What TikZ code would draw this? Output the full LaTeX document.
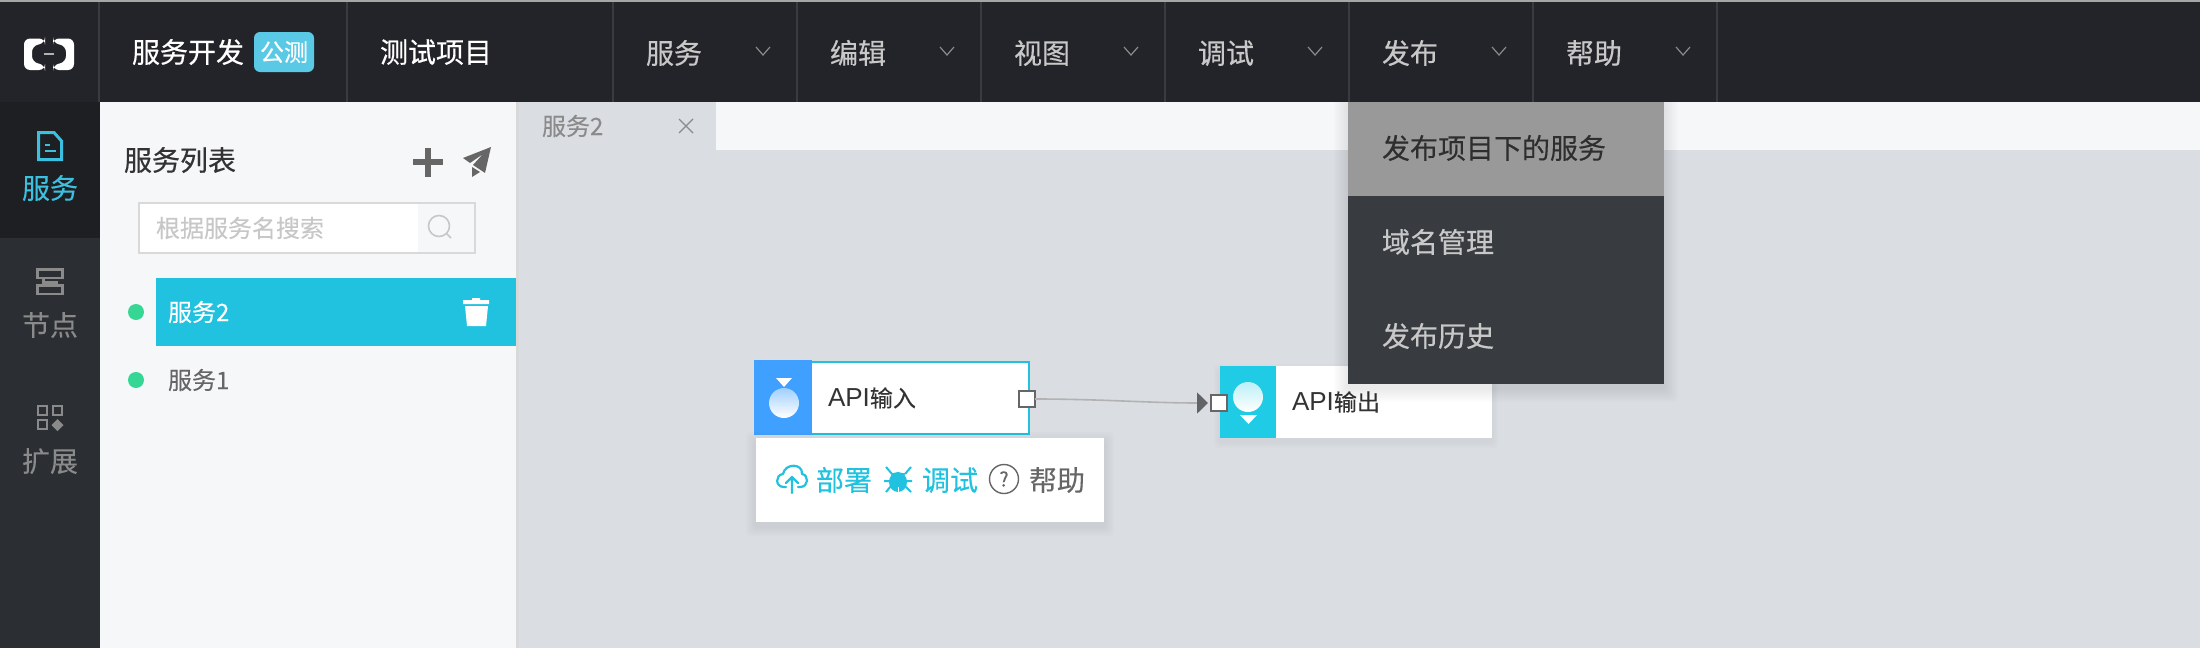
\documentclass[tikz,border=0pt]{standalone}
\usepackage{fontspec}
\setmainfont[FakeBold=0.15]{Noto Sans CJK SC}
\newfontfamily\heavyf[FakeBold=0.4]{Noto Sans CJK SC}
\newfontfamily\lat{Liberation Sans}
\usetikzlibrary{arrows.meta}
\definecolor{barc}{HTML}{232429}
\definecolor{sepc}{HTML}{3A3B40}
\definecolor{sidec}{HTML}{2B2E33}
\definecolor{sideact}{HTML}{1D1F22}
\definecolor{panelc}{HTML}{F5F7F9}
\definecolor{canvasc}{HTML}{DADDE2}
\definecolor{tealc}{HTML}{20C2DF}
\definecolor{cyanc}{HTML}{3CC0E0}
\definecolor{icong}{HTML}{8A8A8A}
\definecolor{menug}{HTML}{C8C8C8}
\definecolor{darkm}{HTML}{383C40}
\definecolor{hoverm}{HTML}{999999}
\definecolor{greenc}{HTML}{36D695}
\definecolor{iconb}{HTML}{666666}
\definecolor{blueic}{HTML}{40A0FF}
\definecolor{tealic}{HTML}{20CBE6}
\newcommand\softshadow[5]{%
  \foreach \k in {1,...,#5}{
    \fill[black,opacity=.012,rounded corners=2pt]
      ({#1-2*\k},{#2-2*\k+4}) rectangle ({#3+2*\k},{#4+2*\k+4});
  }}
\tikzset{
  lab/.style={inner sep=0,outer sep=0,anchor=west,font=\fontsize{#1}{#1}\selectfont,
    text height=.88*#1 pt,text depth=.12*#1 pt},
  sepl/.style={sepc,line width=.8pt},
  chev/.style={icong,line width=.6pt},
  porte/.style={draw=iconb,fill=white,line width=1pt,inner sep=0,outer sep=0,minimum size=8pt},
  flownode/.style={fill=white,inner sep=0,outer sep=0,minimum height=36pt},
  sideic/.style={icong,line width=1.25pt},
  dot/.style={circle,fill=greenc,inner sep=0,minimum size=8pt}
}
\begin{document}
\begin{tikzpicture}[x=.5pt,y=-.5pt]
\useasboundingbox (0,0) rectangle (2200,648);
% backgrounds
\fill[canvasc] (0,0) rectangle (2200,648);
\fill[panelc] (516,102) rectangle (2200,150);
\fill[sidec] (0,102) rectangle (100,648);
\fill[sideact] (0,102) rectangle (100,238);
\fill[panelc] (100,102) rectangle (516,648);
\fill[black!15] (516,102) rectangle (519,648);
\fill[canvasc] (519,102) rectangle (716,150);
% tab
\node[lab=12,text=icong] (tab) at (542,126) {服务2};
\draw[icong,line width=.6pt] (679,119) -- (693,133) (693,119) -- (679,133);
% panel
\node[lab=14,text=black!80,font=\fontsize{14}{14}\heavyf] (ptitle) at (124,160) {服务列表};
\draw[iconb,line width=2.8pt] (413,162) -- (443,162) (428,148) -- (428,177);
\fill[iconb] (463,158) -- (491,147) -- (485,173) -- (473,165) -- (483,154) -- (470,163) -- cycle;
\fill[iconb] (472,167) -- (480,172) -- (472,177) -- cycle;
\fill[white,draw=black!15,line width=1pt] (139,203) rectangle (475,253);
\fill[panelc] (418,204) rectangle (474,252);
\node[lab=12,text=black!22] (search) at (156,228) {根据服务名搜索};
\draw[black!22,line width=.8pt] (439,226) circle[radius=10.5] (447,234) -- (451,238);
\fill[tealc] (156,278) rectangle (516,346);
\node[lab=12,text=white,font=\fontsize{12}{12}\heavyf] (s2) at (168,312) {服务2};
\fill[white] (463,300) rectangle (489,304) (472,298) rectangle (480,300);
\fill[white] (465,306) -- (488,306) -- (486,326) -- (467,326) -- cycle;
\node[dot] (d2) at (136,312) {};
\node[lab=12,text=iconb] (s1) at (168,380) {服务1};
\node[dot] (d1) at (136,380) {};
% sidebar
\draw[cyanc,line width=1.5pt,line join=miter] (38.5,132.5) -- (54,132.5) -- (61.5,141) -- (61.5,159.5) -- (38.5,159.5) -- cycle;
\draw[cyanc,line width=1.2pt] (45,145) -- (50,145) (45,151) -- (56,151);
\node[lab=14,text=cyanc,anchor=center] (n1) at (50,188) {服务};
\draw[sideic] (37.5,269.5) rectangle (62.5,278);
\draw[sideic] (37.5,285.5) rectangle (62.5,294);
\draw[sideic] (43.5,278) -- (43.5,282.5) -- (57,282.5) -- (57,285.5);
\node[lab=14,text=icong,anchor=center] (n2) at (50,325) {节点};
\draw[sideic,line width=1.2pt] (38,406) rectangle (47,415) (53,406) rectangle (62,415) (38,420) rectangle (47,429);
\fill[icong] (57.5,419) -- (63.5,425) -- (57.5,431) -- (51.5,425) -- cycle;
\node[lab=14,text=icong,anchor=center] (n3) at (50,461) {扩展};
% flow nodes
\node[flownode,draw=tealc,line width=1pt,minimum width=137pt] (apiin) at (892,398) {};
\fill[blueic] (754,360) rectangle (812,435);
\shade[top color=blueic!50!white,bottom color=white] (784,403) circle[radius=15];
\fill[white] (776,378) -- (792,378) -- (784,387) -- cycle;
\node[lab=11.5,text=black!80] (intext) at (828,398) {{\lat\fontsize{13}{13}\selectfont API}输入};
\softshadow{1220}{366}{1492}{438}{3}
\node[flownode,minimum width=136pt] (apiout) at (1356,402) {};
\fill[tealic] (1220,366) rectangle (1276,438);
\shade[top color=tealic!30!white,bottom color=white] (1248,397) circle[radius=15];
\fill[white] (1240,415) -- (1257,415) -- (1248.5,424) -- cycle;
\node[lab=11.5,text=black!80] (outtext) at (1292,402) {{\lat\fontsize{13}{13}\selectfont API}输出};
\node[porte] (portin) at (1027,399) {};
\node[porte] (portout) at (1219,403) {};
\draw[black!30,line width=.8pt,shorten >=1.5pt,-{Triangle[length=5.5pt,width=10.5pt,color=black!55!canvasc]}]
  (portin.east) .. controls (1100,399) and (1150,403) .. (portout.west);
% toolbar
\softshadow{756}{438}{1104}{522}{5}
\fill[white] (756,438) rectangle (1104,522);
\draw[tealc,line width=1.1pt,line cap=round,line join=round]
  (786,487) -- (784,487) .. controls (775,487) and (775,475) .. (783,474)
  .. controls (785,463) and (803,463) .. (802,474)
  .. controls (809,475) and (809,487) .. (800,487) -- (798,487);
\draw[tealc,line width=1.1pt,line cap=round,line join=round] (792,493) -- (792,477) (786,483) -- (792,477) -- (798,483);
\node[lab=14,text=tealc] (deploy) at (816,480) {部署};
\fill[tealc] (898,482) ellipse[x radius=9,y radius=10];
\fill[tealc] (891,473) arc[start angle=180,end angle=0,radius=7] -- cycle;
\draw[tealc,line width=1pt] (886,467) -- (892,474) (911,467) -- (905,474) (884,481) -- (912,481) (886,492) -- (891,486) (911,492) -- (905,486);
\draw[white,line width=.5pt] (898,487) -- (898,492);
\node[lab=14,text=tealc] (debug) at (922,480) {调试};
\node[circle,draw=iconb,line width=.7pt,inner sep=0,minimum size=14.5pt,text=iconb,font=\fontsize{10}{10}\selectfont,text height=7.5pt,text depth=0pt] (helpc) at (1004,479) {?};
\node[lab=14,text=iconb] (help) at (1029,480) {帮助};
% dropdown
\softshadow{1348}{102}{1664}{384}{7}
% top bar
\fill[barc] (0,0) rectangle (2200,102);
\fill[black!35] (0,0) rectangle (2200,1.5);
\foreach \xx in {99,347,613,797,981,1165,1349,1533,1717}{
  \draw[sepl] (\xx,2) -- (\xx,102);
}
\fill[white,rounded corners=3pt] (45,38.5) -- (24,38.5) -- (24,70) -- (45,70) -- (45,65) -- (32,62) -- (32,46) -- (45,43) -- cycle;
\fill[white,rounded corners=3pt] (53,38.5) -- (74,38.5) -- (74,70) -- (53,70) -- (53,65) -- (66,62) -- (66,46) -- (53,43) -- cycle;
\draw[black!30,line width=1pt] (44,54) -- (54,54);
\node[lab=14,text=white,font=\fontsize{14}{14}\heavyf] (brand) at (132,52) {服务开发};
\fill[cyanc!85!white,rounded corners=3pt] (254,32) rectangle (314,72);
\node[lab=12,text=white,font=\fontsize{12}{12}\heavyf] (beta) at (260,52) {公测};
\node[lab=14,text=white,font=\fontsize{14}{14}\heavyf] (proj) at (380,52) {测试项目};
\foreach \xx/\tt/\nm in {613/服务/a,797/编辑/b,981/视图/c,1165/调试/d,1349/发布/e,1533/帮助/f}{
  \node[lab=14,text=menug,font=\fontsize{14}{14}\heavyf] (m\nm) at (\xx+33,53) {\tt};
  \draw[chev] (\xx+143,47) -- (\xx+150,55) -- (\xx+157,47);
}
\fill[hoverm] (1348,102) rectangle (1664,196);
\fill[darkm] (1348,196) rectangle (1664,384);
\node[lab=14,text=black!70!hoverm] (d1t) at (1382,148) {发布项目下的服务};
\node[lab=14,text=menug,font=\fontsize{14}{14}\heavyf] (d2t) at (1382,242) {域名管理};
\node[lab=14,text=menug,font=\fontsize{14}{14}\heavyf] (d3t) at (1382,336) {发布历史};
\end{tikzpicture}
\end{document}
